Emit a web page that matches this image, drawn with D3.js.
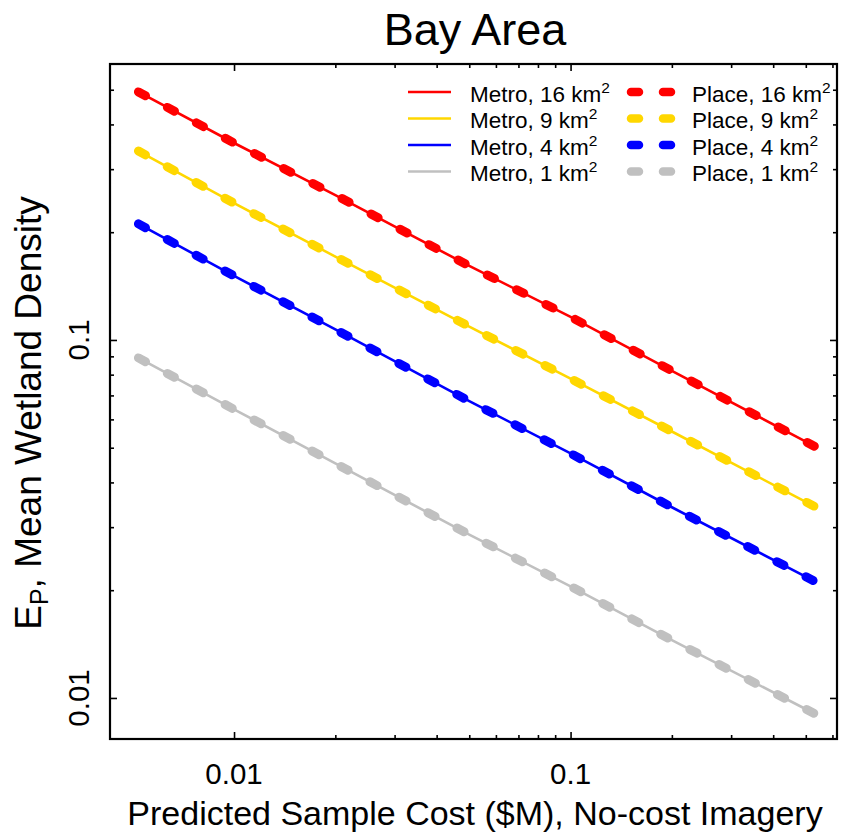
<!DOCTYPE html>
<html>
<head>
<meta charset="utf-8">
<script src="https://cdn.jsdelivr.net/npm/d3@7"></script>
<style>
  html, body { margin: 0; padding: 0; background: #ffffff; }
  svg { display: block; font-family: "Liberation Sans", Arial, Helvetica, sans-serif; }
</style>
</head>
<body>
<svg id="chart" width="841" height="833"></svg>
<script>
// Predicted sample cost ($M) at which each curve is evaluated
const costs = [0.0052, 0.01, 0.02, 0.05, 0.1, 0.2, 0.53];

// Mean wetland density, metro-scale sampling, by plot size
const metro16 = [0.493, 0.355, 0.254, 0.161, 0.116, 0.082, 0.0505];
const metro9  = [0.337, 0.241, 0.171, 0.109, 0.078, 0.0555, 0.0343];
const metro4  = [0.211, 0.151, 0.107, 0.0675, 0.0482, 0.0341, 0.0212];
const metro1  = [0.0891, 0.0640, 0.0452, 0.0286, 0.0205, 0.0145, 0.00905];

// Mean wetland density, place-scale sampling, by plot size
const place16 = [0.493, 0.355, 0.254, 0.161, 0.116, 0.082, 0.0505];
const place9  = [0.337, 0.241, 0.171, 0.109, 0.078, 0.0555, 0.0343];
const place4  = [0.211, 0.151, 0.107, 0.0675, 0.0482, 0.0341, 0.0212];
const place1  = [0.0891, 0.0640, 0.0452, 0.0286, 0.0205, 0.0145, 0.00905];

const seriesNames = ["16", "9", "4", "1"];
const seriesColors = ["#ff0000", "#ffd700", "#0000ff", "#c0c0c0"];
const metroSeries = [metro16, metro9, metro4, metro1];
const placeSeries = [place16, place9, place4, place1];

// Axis ticks
const xMajor = [0.01, 0.1];
const xMinor = [0.02, 0.03, 0.04, 0.05, 0.06, 0.07, 0.08, 0.09, 0.2, 0.3, 0.4, 0.5, 0.6];
const yMajor = [0.01, 0.1];
const yMinor = [0.02, 0.03, 0.04, 0.05, 0.06, 0.07, 0.08, 0.09, 0.2, 0.3, 0.4, 0.5];
const tickLabel = d3.format("");

const svg = d3.select("#chart");
const plotLeft = 110, plotRight = 837, plotTop = 64, plotBottom = 739;

const x = d3.scaleLog().domain([0.00428, 0.619]).range([plotLeft, plotRight]);
const y = d3.scaleLog().domain([0.00768, 0.590]).range([plotBottom, plotTop]);

// Title
svg.append("text")
  .attr("x", 475).attr("y", 45)
  .attr("text-anchor", "middle")
  .attr("font-size", 45)
  .attr("fill", "#000")
  .text("Bay Area");

// Ticks on all four sides, pointing into the plot
function tickAxis(gen, scale, values, size, transform) {
  svg.append("g")
    .attr("transform", transform)
    .call(gen(scale).tickValues(values).tickSizeInner(size).tickSizeOuter(0).tickFormat(""))
    .call(g => g.select(".domain").remove())
    .call(g => g.selectAll(".tick line").attr("stroke", "#000").attr("stroke-width", 1.6));
}
tickAxis(d3.axisBottom, x, xMajor, -7, `translate(0,${plotBottom})`);
tickAxis(d3.axisBottom, x, xMinor, -4, `translate(0,${plotBottom})`);
tickAxis(d3.axisTop, x, xMajor, -7, `translate(0,${plotTop})`);
tickAxis(d3.axisTop, x, xMinor, -4, `translate(0,${plotTop})`);
tickAxis(d3.axisLeft, y, yMajor, -7, `translate(${plotLeft},0)`);
tickAxis(d3.axisLeft, y, yMinor, -4, `translate(${plotLeft},0)`);
tickAxis(d3.axisRight, y, yMajor, -7, `translate(${plotRight},0)`);
tickAxis(d3.axisRight, y, yMinor, -4, `translate(${plotRight},0)`);

// Frame
svg.append("rect")
  .attr("x", plotLeft).attr("y", plotTop)
  .attr("width", plotRight - plotLeft).attr("height", plotBottom - plotTop)
  .attr("fill", "none").attr("stroke", "#000").attr("stroke-width", 2.2);

// Tick labels
svg.append("g").selectAll("text").data(xMajor).join("text")
  .attr("x", d => x(d)).attr("y", 784)
  .attr("text-anchor", "middle").attr("font-size", 29.5).attr("fill", "#000")
  .text(tickLabel);
svg.append("g").selectAll("text").data(yMajor).join("text")
  .attr("transform", d => `translate(89,${y(d)}) rotate(-90)`)
  .attr("text-anchor", "middle").attr("font-size", 29.5).attr("fill", "#000")
  .text(tickLabel);

// Axis titles
svg.append("text")
  .attr("x", 475).attr("y", 825)
  .attr("text-anchor", "middle").attr("font-size", 34).attr("fill", "#000")
  .text("Predicted Sample Cost ($M), No-cost Imagery");

const yTitle = svg.append("text")
  .attr("transform", "translate(41,413) rotate(-90)")
  .attr("text-anchor", "middle").attr("font-size", 37).attr("fill", "#000");
yTitle.append("tspan").text("E");
yTitle.append("tspan").attr("font-size", 25).attr("dy", 7).text("P");
yTitle.append("tspan").attr("dy", -7).text(", Mean Wetland Density");

// Curves: thin solid metro lines under thick dashed place lines
const line = d3.line().x(d => x(d[0])).y(d => y(d[1]));
const plot = svg.append("g");
metroSeries.forEach((vals, i) => {
  plot.append("path")
    .datum(costs.map((c, j) => [c, vals[j]]))
    .attr("d", line)
    .attr("fill", "none")
    .attr("stroke", seriesColors[i])
    .attr("stroke-width", 2.6);
});
placeSeries.forEach((vals, i) => {
  plot.append("path")
    .datum(costs.map((c, j) => [c, vals[j]]))
    .attr("d", line)
    .attr("fill", "none")
    .attr("stroke", seriesColors[i])
    .attr("stroke-width", 9)
    .attr("stroke-linecap", "round")
    .attr("stroke-dasharray", "8 24.83");
});

// Legend
const legend = svg.append("g");
seriesNames.forEach((name, i) => {
  const ly = 92 + i * 26.5;
  legend.append("line")
    .attr("x1", 408).attr("x2", 451).attr("y1", ly).attr("y2", ly)
    .attr("stroke", seriesColors[i]).attr("stroke-width", 2.6);
  const t1 = legend.append("text")
    .attr("x", 470).attr("y", ly + 9.5)
    .attr("font-size", 22.5).attr("fill", "#000");
  t1.append("tspan").text(`Metro, ${name} km`);
  t1.append("tspan").attr("font-size", 15.5).attr("dy", -9).text("2");

  legend.append("line")
    .attr("x1", 631).attr("x2", 671).attr("y1", ly).attr("y2", ly)
    .attr("stroke", seriesColors[i]).attr("stroke-width", 8.5)
    .attr("stroke-linecap", "round")
    .attr("stroke-dasharray", "8 24");
  const t2 = legend.append("text")
    .attr("x", 692).attr("y", ly + 9.5)
    .attr("font-size", 22.5).attr("fill", "#000");
  t2.append("tspan").text(`Place, ${name} km`);
  t2.append("tspan").attr("font-size", 15.5).attr("dy", -9).text("2");
});
</script>
</body>
</html>
